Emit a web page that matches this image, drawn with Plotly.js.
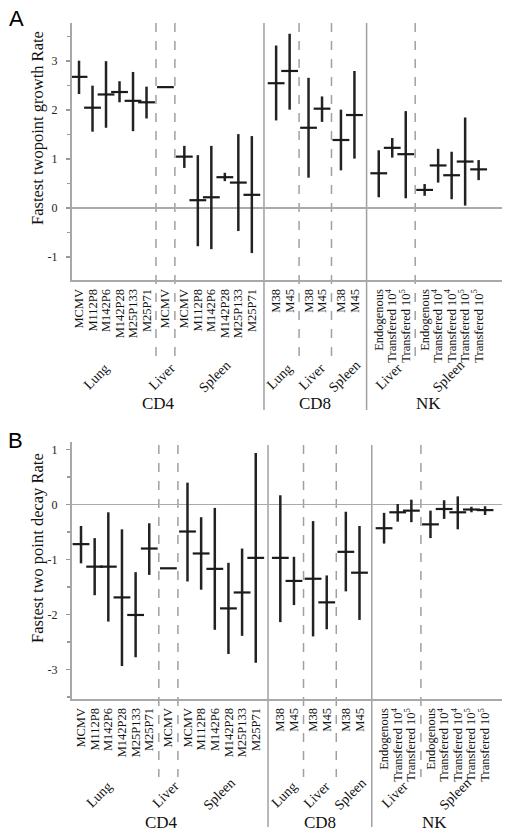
<!DOCTYPE html>
<html>
<head>
<meta charset="utf-8">
<script src="https://cdn.plot.ly/plotly-3.0.1.min.js"></script>
<style>html,body{margin:0;padding:0;background:#fff}#chart{width:508px;height:835px}</style>
</head>
<body>
<div id="chart"></div>
<script>
// ---- tick labels per group ----
const cd4Lung = ["MCMV","M112P8","M142P6","M142P28","M25P133","M25P71"];
const cd4Liver = ["MCMV"];
const cd4Spleen = ["MCMV","M112P8","M142P6","M142P28","M25P133","M25P71"];
const cd8Lung = ["M38","M45"];
const cd8Liver = ["M38","M45"];
const cd8Spleen = ["M38","M45"];
const nkLiver = ["Endogenous","Transfered 10<sup>4</sup>","Transfered 10<sup>5</sup>"];
const nkSpleen = ["Endogenous","Transfered 10<sup>4</sup>","Transfered 10<sup>4</sup>","Transfered 10<sup>5</sup>","Transfered 10<sup>5</sup>"];

const cellTypes = ["CD4","CD4","CD4","CD8","CD8","CD8","NK","NK"];
const tissues = ["Lung","Liver","Spleen","Lung","Liver","Spleen","Liver","Spleen"];

// ---- panel A: fastest two-point growth rate ----
const growthMean = [2.68,2.05,2.32,2.37,2.19,2.16, 2.47, 1.05,0.16,0.22,0.63,0.52,0.27, 2.55,2.80,1.64,2.03,1.39,1.90, 0.71,1.23,1.10, 0.37,0.87,0.67,0.95,0.79];
const growthHigh = [3.01,2.50,3.00,2.59,2.78,2.48, 2.47, 1.27,1.08,1.27,0.72,1.51,1.47, 3.32,3.56,2.66,2.28,2.01,2.80, 1.18,1.43,1.98, 0.49,1.21,1.15,1.85,0.98];
const growthLow  = [2.33,1.56,1.64,2.16,1.57,1.83, 2.47, 0.82,-0.78,-0.84,0.55,-0.47,-0.92, 1.79,2.01,0.62,1.76,0.77,1.01, 0.22,1.03,0.20, 0.25,0.52,0.18,0.05,0.57];

// ---- panel B: fastest two-point decay rate ----
const decayMean = [-0.72,-1.13,-1.13,-1.69,-2.01,-0.80, -1.16, -0.49,-0.89,-1.17,-1.89,-1.60,-0.97, -0.97,-1.39,-1.35,-1.78,-0.86,-1.24, -0.43,-0.14,-0.11, -0.36,-0.08,-0.14,-0.09,-0.10];
const decayHigh = [-0.39,-0.61,-0.14,-0.45,-1.23,-0.34, -1.16, 0.40,-0.23,-0.06,-1.06,-0.80,0.94, 0.17,-0.95,-0.30,-1.29,-0.13,-0.39, -0.15,0.01,0.09, -0.11,0.08,0.15,-0.04,-0.03];
const decayLow  = [-1.07,-1.65,-2.13,-2.94,-2.78,-1.28, -1.16, -1.40,-1.55,-2.28,-2.72,-2.39,-2.88, -2.14,-1.83,-2.40,-2.27,-1.58,-2.10, -0.71,-0.31,-0.32, -0.61,-0.26,-0.45,-0.14,-0.19];

const yTicksA = [-1,0,1,2,3];
const yTicksB = [-3,-2,-1,0,1];

// ---------- layout construction ----------
const W = 508, H = 835;
const groupLabels = [cd4Lung, cd4Liver, cd4Spleen, cd8Lung, cd8Liver, cd8Spleen, nkLiver, nkSpleen];
const GAP_TISSUE = 1.4, GAP_CELL = 1.8;
const SERIF = "Liberation Serif";
const SANS = "Liberation Sans";

const xs = [], ticktext = [], seps = [], groupCenters = [], groupCell = [];
let pos = 0;
groupLabels.forEach((labs, g) => {
  if (g > 0) {
    const newCell = cellTypes[g] !== cellTypes[g-1];
    const gap = newCell ? GAP_CELL : GAP_TISSUE;
    seps.push({x: pos + gap/2, solid: newCell});
    pos += gap;
  }
  const start = pos;
  labs.forEach((l, i) => {
    if (i > 0) pos += 1;
    xs.push(pos);
    ticktext.push(l);
    groupCell.push(cellTypes[g]);
  });
  groupCenters.push((start + pos) / 2);
});

const cellCenters = {};
["CD4","CD8","NK"].forEach(c => {
  const px = xs.filter((v,i)=>groupCell[i]===c);
  cellCenters[c] = (Math.min(...px) + Math.max(...px)) / 2;
});

const py = p => 1 - p / H;

function trace(mean, hi, lo, xa, ya) {
  return {
    type: "scatter", mode: "markers", x: xs, y: mean, xaxis: xa, yaxis: ya,
    marker: {symbol: "line-ew", size: 12, color: "#1a1a1a", line: {color: "#1a1a1a", width: 2.2}},
    error_y: {type: "data", symmetric: false,
      array: hi.map((v,i)=>v-mean[i]), arrayminus: mean.map((v,i)=>v-lo[i]),
      width: 0, thickness: 2.5, color: "#222"},
    hoverinfo: "x+y", showlegend: false, cliponaxis: false
  };
}

function xaxisDef(anchor, range) {
  return {domain: [72/W, 502/W], range: range, anchor: anchor,
    tickmode: "array", tickvals: xs, ticktext: ticktext, tickangle: -90,
    ticks: "", showgrid: false, zeroline: false, showline: true,
    linecolor: "#a8a8a8", linewidth: 2, ticklabelstandoff: 2,
    tickfont: {family: SERIF, size: 12.5, color: "#111"}};
}
function halves(r) { const o=[]; for (let v=Math.ceil(r[0]*2)/2; v<=r[1]; v+=0.5) if (Math.abs(v-Math.round(v))>0.1) o.push(v); return o; }
function yaxisDef(anchor, domain, range, tv) {
  return {domain: domain, range: range, anchor: anchor,
    tickmode: "array", tickvals: tv, ticktext: tv.map(String),
    ticks: "outside", ticklen: 4, tickcolor: "#999", tickwidth: 1.5, ticklabelstandoff: 6,
    minor: {tickmode: "array", tickvals: halves(range), ticks: "outside", ticklen: 3, tickcolor: "#999", tickwidth: 1.5},
    showline: true, linecolor: "#a8a8a8", linewidth: 2, showgrid: false,
    zeroline: true, zerolinecolor: "#aaa", zerolinewidth: 1.5,
    tickfont: {family: SERIF, size: 12, color: "#222"}};
}

const rangeA = [-1.47, 3.78], rangeB = [-3.54, 1.14];
const xrA = [-0.52, 31.33], xrB = [-0.66, 30.84];

const shapes = [];
seps.forEach(s => {
  [["x", 23, s.solid ? 410 : 357], ["x2", 445, s.solid ? 827 : 777]].forEach(([xr, top, bot]) => {
    shapes.push({type: "line", xref: xr, yref: "paper", x0: s.x, x1: s.x, y0: py(top), y1: py(bot),
      line: {color: "#a0a0a0", width: 1.5, dash: s.solid ? "solid" : "dash"}, layer: "below"});
  });
});

const annotations = [];
[["x", 377, 403], ["x2", 794, 822]].forEach(([xr, gy, cy]) => {
  tissues.forEach((t, g) => {
    annotations.push({xref: xr, yref: "paper", x: groupCenters[g], y: py(gy), text: t, showarrow: false,
      textangle: -45, xanchor: "center", yanchor: "middle", xshift: g === 0 ? -16 : -3,
      font: {family: SERIF, size: 14, color: "#111"}});
  });
  Object.keys(cellCenters).forEach(c => {
    annotations.push({xref: xr, yref: "paper", x: cellCenters[c], y: py(cy), text: c, showarrow: false,
      xanchor: "center", yanchor: "middle", xshift: c === "CD4" ? -7 : 0,
      font: {family: SERIF, size: 17, color: "#111"}});
  });
});
annotations.push({xref: "paper", yref: "paper", x: 37/W, y: py(128), text: "Fastest twopoint growth Rate",
  textangle: -90, showarrow: false, xanchor: "center", yanchor: "middle", font: {family: SERIF, size: 16.5, color: "#111"}});
annotations.push({xref: "paper", yref: "paper", x: 37/W, y: py(548), text: "Fastest two point decay Rate",
  textangle: -90, showarrow: false, xanchor: "center", yanchor: "middle", font: {family: SERIF, size: 16.5, color: "#111"}});
annotations.push({xref: "paper", yref: "paper", x: 16/W, y: py(18), text: "A", showarrow: false,
  xanchor: "center", yanchor: "middle", font: {family: SANS, size: 22, color: "#000"}});
annotations.push({xref: "paper", yref: "paper", x: 15/W, y: py(440), text: "B", showarrow: false,
  xanchor: "center", yanchor: "middle", font: {family: SANS, size: 22, color: "#000"}});

const layout = {
  width: W, height: H, margin: {l: 0, r: 0, t: 0, b: 0},
  paper_bgcolor: "#fff", plot_bgcolor: "#fff", showlegend: false,
  font: {family: SERIF},
  xaxis: xaxisDef("y", xrA), yaxis: yaxisDef("x", [py(280), py(23)], rangeA, yTicksA),
  xaxis2: xaxisDef("y2", xrB), yaxis2: yaxisDef("x2", [py(699), py(442)], rangeB, yTicksB),
  shapes: shapes, annotations: annotations
};

Plotly.newPlot("chart", [trace(growthMean, growthHigh, growthLow, "x", "y"),
                         trace(decayMean, decayHigh, decayLow, "x2", "y2")], layout, {staticPlot: true});
</script>
</body>
</html>
